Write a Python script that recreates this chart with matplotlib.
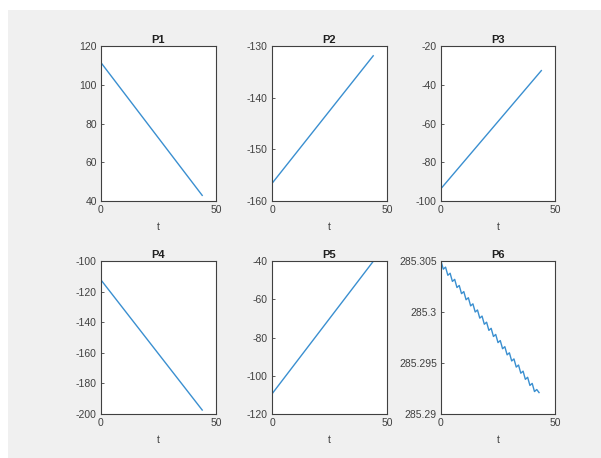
import matplotlib
matplotlib.use("Agg")
import matplotlib.pyplot as plt
from matplotlib.patches import Rectangle

plt.rcParams["font.family"] = ["Liberation Sans", "DejaVu Sans"]

titles = ["P1", "P2", "P3", "P4", "P5", "P6"]

t_line = [0, 44]
p1 = [111.4, 42.9]
p2 = [-156.6, -131.9]
p3 = [-93.6, -32.7]
p4 = [-112.4, -197.4]
p5 = [-109.5, -40.2]

t6 = list(range(44))
p6 = [285.3050, 285.3042, 285.3044, 285.3036, 285.3038, 285.3030, 285.3032, 285.3024,
      285.3026, 285.3018, 285.3020, 285.3012, 285.3014, 285.3006, 285.3008, 285.3000,
      285.3002, 285.2994, 285.2996, 285.2988, 285.2990, 285.2982, 285.2984, 285.2976,
      285.2978, 285.2970, 285.2972, 285.2964, 285.2966, 285.2958, 285.2960, 285.2952,
      285.2954, 285.2946, 285.2948, 285.2940, 285.2942, 285.2934, 285.2936, 285.2928,
      285.2930, 285.2922, 285.2924, 285.2921]

ylims = [(40, 120), (-160, -130), (-100, -20), (-200, -100), (-120, -40), (285.29, 285.305)]
yticks = [
    [40, 60, 80, 100, 120],
    [-160, -150, -140, -130],
    [-100, -80, -60, -40, -20],
    [-200, -180, -160, -140, -120, -100],
    [-120, -100, -80, -60, -40],
    [285.29, 285.295, 285.3, 285.305],
]
yticklabels = [
    ["40", "60", "80", "100", "120"],
    ["-160", "-150", "-140", "-130"],
    ["-100", "-80", "-60", "-40", "-20"],
    ["-200", "-180", "-160", "-140", "-120", "-100"],
    ["-120", "-100", "-80", "-60", "-40"],
    ["285.29", "285.295", "285.3", "285.305"],
]
xticks = [0, 50]
xticklabels = ["0", "50"]

series = [(t_line, p1), (t_line, p2), (t_line, p3), (t_line, p4), (t_line, p5), (t6, p6)]

W, H = 601, 458
fig = plt.figure(figsize=(W / 100, H / 100), dpi=100, facecolor="white")
fig.patches.append(Rectangle((8 / W, 0), 1 - 8 / W, 1 - 10 / H, transform=fig.transFigure,
                             facecolor="#f0f0f0", edgecolor="none", zorder=-10))

lefts = [101, 272, 441]
widths = [115, 115, 114]
rows = [(46, 201), (261, 414)]

edge = "#404040"
for i in range(6):
    r, c = divmod(i, 3)
    top, bot = rows[r]
    ax = fig.add_axes([lefts[c] / W, 1 - bot / H, widths[c] / W, (bot - top) / H])
    x, y = series[i]
    ax.plot(x, y, color="#3a8fd0", lw=1.0)
    ax.set_xlim(0, 50)
    ax.set_ylim(*ylims[i])
    ax.set_xticks(xticks)
    ax.set_xticklabels(xticklabels)
    ax.set_yticks(yticks[i])
    ax.set_yticklabels(yticklabels[i])
    ax.tick_params(direction="in", length=2, width=0.6, labelsize=7.5, colors=edge, pad=3)
    for s in ax.spines.values():
        s.set_color(edge)
        s.set_linewidth(0.8)
    ax.set_title(titles[i], fontsize=8, fontweight="bold", color="#202020", pad=2)
    ax.set_xlabel("t", fontsize=7.5, color=edge, labelpad=5)

fig.savefig("out.png", dpi=100, facecolor="white")
